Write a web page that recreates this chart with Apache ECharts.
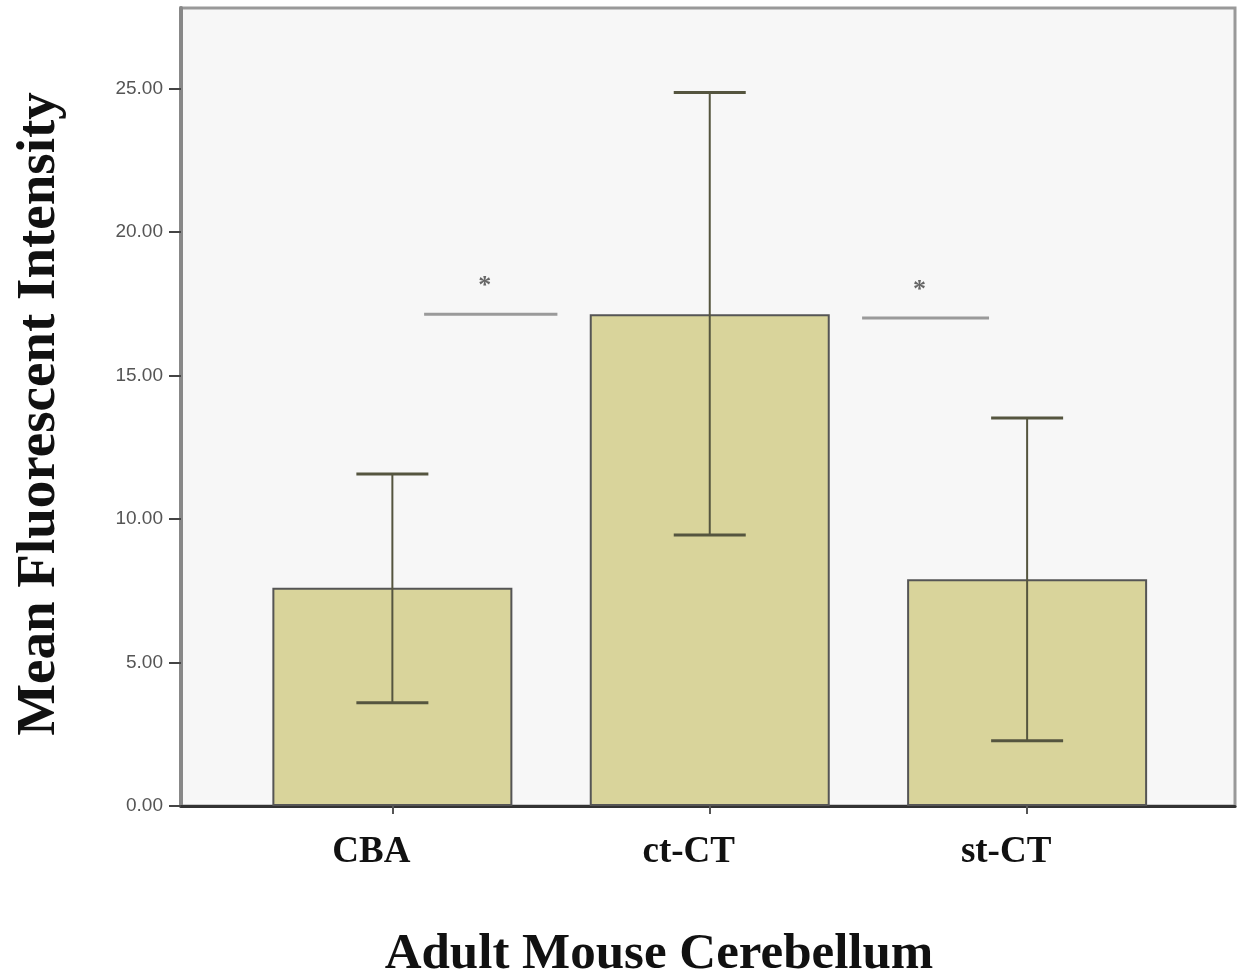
<!DOCTYPE html>
<html>
<head>
<meta charset="utf-8">
<title>Mean Fluorescent Intensity</title>
<script src="https://cdn.jsdelivr.net/npm/echarts@6/dist/echarts.min.js"></script>
<style>
html, body { margin: 0; padding: 0; background: #fff; }
#main { width: 1238px; height: 980px; }
</style>
</head>
<body>
<div id="main"></div>
<script>
// groups and bar heights
var groups = ['CBA', 'ct-CT', 'st-CT'];
var means = [7.6, 17.13, 7.9];
// error bar ends
var errLow = [3.6, 9.44, 2.27];
var errHigh = [11.57, 24.86, 13.52];
var yTicks = [0, 5, 10, 15, 20, 25];
// significance brackets (x in category units)
var sigFrom = [0.1, 1.48];
var sigTo = [0.52, 1.88];
var sigLevel = [17.13, 17.0];
var sigMark = ['*', '*'];

var serif = "'Liberation Serif', 'Times New Roman', serif";

var chart = echarts.init(document.getElementById('main'));

var barData = groups.map(function (g, i) { return [i, means[i]]; });
var errData = groups.map(function (g, i) { return [i, errLow[i], errHigh[i]]; });
var sigData = sigFrom.map(function (v, i) { return [v, sigTo[i], sigLevel[i], sigMark[i]]; });

var option = {
    animation: false,
    backgroundColor: '#fff',
    grid: {
        left: 181, right: 3, top: 8, bottom: 174,
        show: true, backgroundColor: '#f7f7f7',
        borderColor: '#999', borderWidth: 3
    },
    xAxis: {
        type: 'value', min: -0.666, max: 2.655,
        splitLine: { show: false },
        axisLine: { show: true, onZero: false, lineStyle: { color: '#333', width: 3 } },
        axisTick: { show: true, customValues: [0, 1, 2], length: 8, lineStyle: { color: '#555', width: 2 } },
        axisLabel: {
            customValues: [0, 1, 2], margin: 28, padding: [0, 42, 0, 0],
            formatter: function (v) { return groups[Math.round(v)]; },
            fontFamily: serif, fontWeight: 'bold', fontSize: 37, color: '#111'
        }
    },
    yAxis: {
        type: 'value', min: 0, max: 27.8,
        splitLine: { show: false },
        axisLine: { show: true, onZero: false, lineStyle: { color: '#888', width: 4 } },
        axisTick: { show: true, customValues: yTicks, length: 12, lineStyle: { color: '#444', width: 2 } },
        axisLabel: {
            customValues: yTicks, margin: 18,
            formatter: function (v) { return v.toFixed(2); },
            fontFamily: "'Liberation Sans', Arial, sans-serif", fontSize: 19, color: '#555'
        }
    },
    series: [
        {
            type: 'bar', data: barData, barWidth: 240,
            itemStyle: { color: '#d9d49b', borderColor: '#555', borderWidth: 2 }
        },
        {
            // error bars
            type: 'custom', data: errData, z: 5,
            renderItem: function (params, api) {
                var lo = api.coord([api.value(0), api.value(1)]);
                var hi = api.coord([api.value(0), api.value(2)]);
                var half = 36;
                var st = { stroke: '#55553f', lineWidth: 2 };
                var cap = { stroke: '#55553f', lineWidth: 3 };
                return {
                    type: 'group',
                    children: [
                        { type: 'line', shape: { x1: lo[0], y1: lo[1], x2: hi[0], y2: hi[1] }, style: st },
                        { type: 'line', shape: { x1: hi[0] - half, y1: hi[1], x2: hi[0] + half, y2: hi[1] }, style: cap },
                        { type: 'line', shape: { x1: lo[0] - half, y1: lo[1], x2: lo[0] + half, y2: lo[1] }, style: cap }
                    ]
                };
            }
        },
        {
            // significance lines with star
            type: 'custom', data: sigData, z: 6,
            renderItem: function (params, api) {
                var a = api.coord([api.value(0), api.value(2)]);
                var b = api.coord([api.value(1), api.value(2)]);
                var mid = (a[0] + b[0]) / 2 - 6;
                return {
                    type: 'group',
                    children: [
                        { type: 'line', shape: { x1: a[0], y1: a[1], x2: b[0], y2: b[1] }, style: { stroke: '#9a9a9a', lineWidth: 3 } },
                        { type: 'text', x: mid, y: a[1] - 28, style: {
                            text: sigData[params.dataIndex][3], fill: '#666',
                            font: 'bold 26px ' + serif, textAlign: 'center', textVerticalAlign: 'middle'
                        } }
                    ]
                };
            }
        }
    ],
    graphic: [
        {
            type: 'text', x: 40, y: 414, rotation: Math.PI / 2,
            style: {
                text: 'Mean Fluorescent Intensity', fill: '#111',
                font: 'bold 55px ' + serif, textAlign: 'center', textVerticalAlign: 'middle'
            }
        },
        {
            type: 'text', x: 659, y: 955,
            style: {
                text: 'Adult Mouse Cerebellum', fill: '#111',
                font: 'bold 51px ' + serif, textAlign: 'center', textVerticalAlign: 'middle'
            }
        }
    ]
};

chart.setOption(option);
</script>
</body>
</html>
